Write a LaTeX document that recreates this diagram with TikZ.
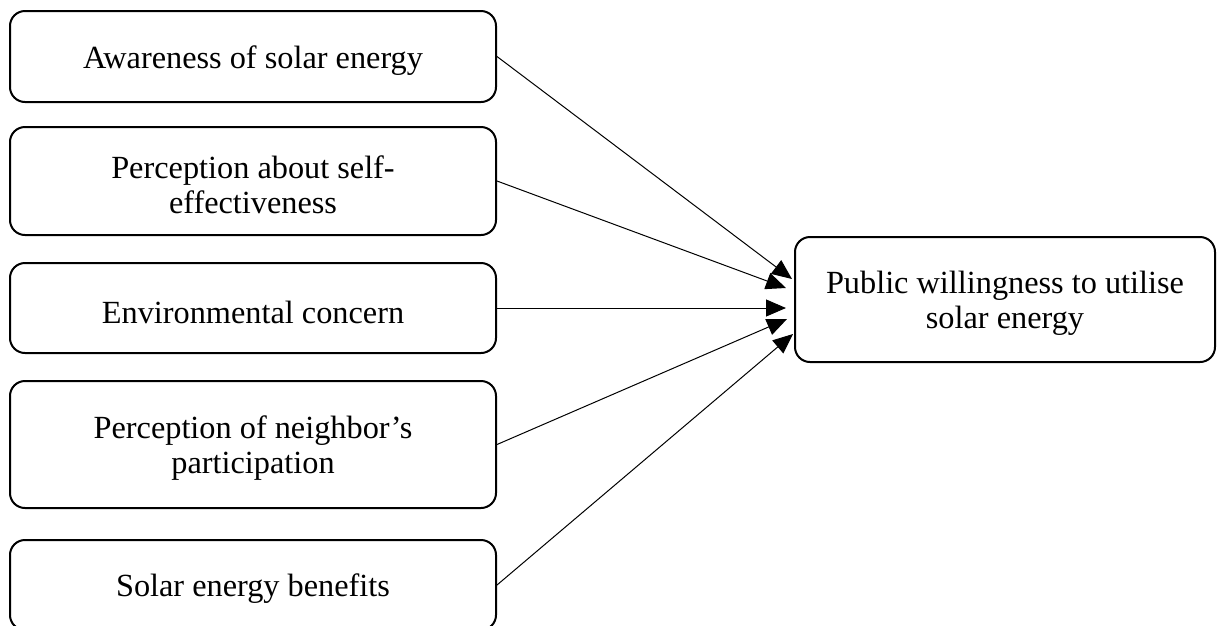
\documentclass[tikz,border=0pt]{standalone}
\usepackage{fontspec}
\setmainfont{Liberation Serif}
\usetikzlibrary{arrows.meta}
\begin{document}
\begin{tikzpicture}[x=1pt,y=-1pt,
  box/.style={draw,line width=2pt,rounded corners=15pt,inner sep=0pt,minimum width=486pt},
  txt/.style={align=center,font=\fontsize{32.3}{35}\selectfont,inner sep=0pt,yshift=-4pt},
  tbox/.style={box,minimum width=420pt,minimum height=125pt},
  arr/.style={line width=1pt,-{Triangle[length=20pt,width=17pt]}}]
\clip (0,0) rectangle (1217,625);
\useasboundingbox (0,0) rectangle (1217,625);
\node[box,minimum height=91pt,label={[txt]center:Awareness of solar energy}] (a1) at (253,56.5) {};
\node[box,minimum height=108pt,label={[txt]center:Perception about self-\\effectiveness}] (a2) at (253,181) {};
\node[box,minimum height=90pt,label={[txt]center:Environmental concern}] (a3) at (253,308) {};
\node[box,minimum height=127pt,label={[txt]center:Perception of neighbor’s\\participation}] (a4) at (253,444.5) {};
\node[box,minimum height=90pt,label={[txt]center:Solar energy benefits}] (a5) at (253,585) {};
\node[tbox,label={[txt]center:Public willingness to utilise\\solar energy}] (t) at (1005,299.5) {};
\draw[arr] (a1.east) -- ([xshift=-2pt,yshift=20.5pt]t.west);
\draw[arr] (a2.east) -- ([xshift=-8pt,yshift=11.5pt]t.west);
\draw[arr] (a3.east) -- ([xshift=-8pt,yshift=-8.5pt]t.west);
\draw[arr] (a4.east) -- ([xshift=-7pt,yshift=-19.5pt]t.west);
\draw[arr] (a5.east) -- ([xshift=-1pt,yshift=-34.5pt]t.west);
\end{tikzpicture}
\end{document}
